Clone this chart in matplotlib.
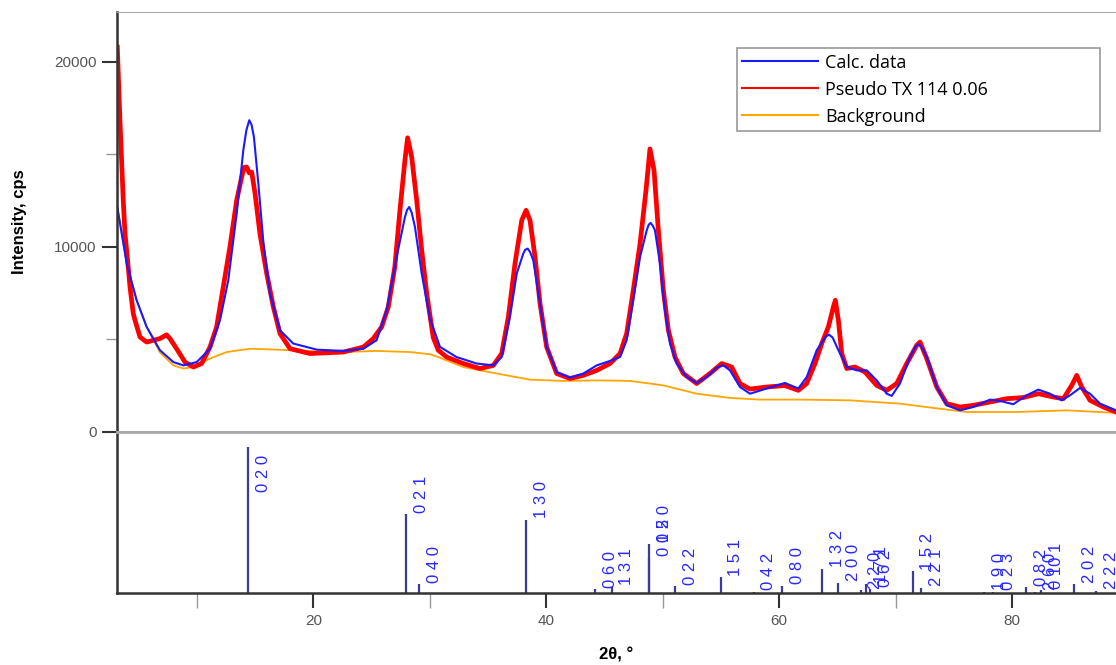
import matplotlib.pyplot as plt

# calculated profile (2theta, cps)
calc_x = [3.17, 3.98, 4.83, 5.69, 6.83, 7.98, 8.84, 9.99, 11.13, 11.99, 12.7, 13.42, 13.99,
          14.25, 14.5, 14.7, 14.9, 15.28, 15.7, 16.28, 17.14, 18.28, 20.3, 22.58, 24.3, 25.44,
          26.3, 27.16, 27.87, 28.05, 28.24, 28.45, 28.73, 29.31, 30.02, 30.88, 32.3, 34.03,
          35.46, 36.18, 36.89, 37.47, 38.03, 38.2, 38.41, 38.62, 38.89, 39.47, 40.04, 40.9,
          42.04, 43.19, 44.34, 45.48, 46.34, 46.91, 47.48, 48.06, 48.63, 48.8, 48.97, 49.15,
          49.34, 49.77, 50.2, 50.63, 51.2, 52.06, 52.92, 53.78, 54.64, 55.21, 55.78, 56.64,
          57.5, 58.93, 60.5, 61.65, 62.37, 63.23, 64.0, 64.29, 64.6, 65.09, 65.81, 66.67,
          67.53, 68.38, 69.24, 69.67, 70.38, 71.24, 71.7, 71.96, 72.25, 72.68, 73.54, 74.39,
          75.54, 76.68, 78.11, 78.97, 80.11, 81.25, 82.26, 83.26, 84.27, 84.98, 85.84, 86.7,
          87.56, 88.93]
calc_y = [12160, 9100, 7120, 5680, 4420, 3780, 3600, 3780, 4500, 6040, 8200, 11800, 15230,
          16300, 16850, 16600, 15950, 13430, 10360, 7480, 5500, 4780, 4450, 4380, 4500, 4960,
          6580, 9460, 11620, 12000, 12160, 11850, 11080, 8560, 6130, 4600, 4050, 3700,
          3600, 4050, 6220, 8560, 9640, 9850, 9910, 9720, 9280, 6940, 4600, 3240,
          2940, 3160, 3600, 3840, 4050, 4960, 7120, 9460, 10900, 11200, 11300, 11150,
          10900, 9100, 6580, 4780, 3700, 2970, 2650, 2970, 3480, 3600, 3330, 2430,
          2070, 2350, 2650, 2350, 2970, 4420, 5150, 5260, 5100, 4420, 3510, 3330,
          3330, 2790, 2070, 1950, 2620, 4050, 4600, 4740, 4600, 4050, 2430, 1440,
          1170, 1350, 1750, 1680, 1500, 1980, 2290, 2070, 1710, 1980, 2380, 2070,
          1530, 1170]

# measured pattern
obs_x = [3.17, 3.4, 3.68, 3.83, 4.11, 4.26, 4.54, 4.69, 5.12, 5.69, 6.83, 7.4, 7.69, 8.26,
         8.98, 9.7, 10.41, 11.13, 11.7, 12.27, 12.84, 13.42, 13.85, 14.05, 14.28, 14.5, 14.71,
         15.0, 15.42, 16.0, 16.57, 17.14, 18.0, 19.72, 22.58, 24.3, 25.15, 25.87, 26.44, 27.0,
         27.44, 27.87, 28.1, 28.45, 28.88, 29.31, 29.74, 30.3, 30.73, 31.45, 32.88,
         34.31, 35.46, 36.18, 36.75, 37.32, 37.9, 38.27, 38.61, 39.04, 39.47, 40.04,
         40.9, 42.04, 43.19, 44.34, 45.48, 46.34, 46.91, 47.48, 48.06, 48.57, 48.91,
         49.26, 49.63, 50.06, 50.49, 51.06, 51.77, 52.92, 54.06, 55.07, 55.93, 56.64,
         57.5, 58.93, 60.5, 61.65, 62.37, 63.08, 63.66, 64.23, 64.66, 64.83, 65.09,
         65.38, 65.81, 66.52, 67.38, 68.38, 69.24, 70.1, 70.96, 71.82, 72.1, 72.68,
         73.54, 74.39, 75.54, 76.68, 78.11, 79.54, 80.97, 82.26, 83.55, 84.41, 85.13,
         85.56, 85.99, 86.7, 87.84, 88.93]
obs_y = [20800, 16800, 12520, 10730, 8900, 7840, 6400, 6040, 5130, 4860, 5050, 5250, 5050, 4500,
         3780, 3510, 3700, 4590, 5680, 7840, 10000, 12520, 13780, 14300, 14320, 14000, 14050,
         12880, 10720, 8560, 6760, 5320, 4500, 4240, 4320, 4590, 5050, 5680, 6760, 8920,
         11980, 14690, 15900, 14860, 12520, 9820, 7480, 5100, 4420, 4050, 3700,
         3430, 3600, 4240, 6220, 9100, 11440, 11980, 11440, 9460, 6940, 4590,
         3160, 2890, 3060, 3330, 3700, 4240, 5320, 7660, 10180, 13060, 15300,
         14140, 10900, 7660, 5500, 4050, 3160, 2620, 3160, 3700, 3510, 2620,
         2320, 2430, 2510, 2250, 2620, 3700, 4780, 5680, 6760, 7120, 6040,
         4240, 3430, 3510, 3240, 2520, 2250, 2620, 3700, 4690, 4860, 3970,
         2430, 1530, 1350, 1440, 1620, 1800, 1860, 2070, 1890, 1800, 2520,
         3060, 2430, 1710, 1350, 1080]

# background
bg_x = [3.17, 3.98, 4.83, 5.69, 6.83, 7.98, 8.84, 9.7, 11.13, 12.56, 14.56, 16.86, 19.72,
        22.58, 25.44, 28.3, 30.02, 30.73, 32.88, 35.75, 38.6, 41.47, 44.34, 47.2, 50.06,
        52.92, 55.78, 58.36, 61.8, 66.1, 70.38, 73.25, 76.11, 80.4, 84.7, 88.93]
bg_y = [12160, 9100, 7120, 5680, 4300, 3600, 3430, 3510, 3970, 4320, 4500, 4450, 4380,
        4320, 4380, 4320, 4200, 4050, 3510, 3160, 2830, 2760, 2790, 2760, 2520,
        2070, 1840, 1750, 1750, 1710, 1530, 1300, 1080, 1080, 1170, 1030]

# reflections: 2theta, relative intensity, hkl
peak_pos = [14.42, 27.96, 29.1, 38.3, 44.21, 45.62, 48.85, 48.85, 51.06, 54.97, 57.82, 60.29,
            63.68, 65.06, 67.0, 67.47, 67.8, 71.47, 72.21, 77.59, 78.41, 81.18, 82.0,
            82.5, 85.32, 87.2]
peak_int = [100, 54, 6, 50, 2.5, 4.3, 24, 33.8, 4.8, 10.7, 1, 5, 16.5, 7, 2, 6, 3, 14.8,
            3.6, 1, 1, 4, 1, 2, 6, 1.5]
peak_hkl = ["0 2 0", "0 2 1", "0 4 0", "1 3 0", "0 6 0", "1 3 1", "0 0 2", "1 5 0", "0 2 2",
            "1 5 1", "0 4 2", "0 8 0", "1 3 2", "2 0 0", "2 2 0", "1 7 1", "0 6 2", "1 5 2",
            "2 2 1", "1 9 0", "0 2 3", "0 8 2", "2 6 0", "0 10 1", "2 0 2", "2 2 2"]

plt.rcParams['font.family'] = ['Liberation Sans', 'DejaVu Sans']

fig = plt.figure(figsize=(11.16, 6.65), dpi=100)
ax = fig.add_axes([0.1048, 0.3504, 0.8952, 0.6316])
ax2 = fig.add_axes([0.1048, 0.1083, 0.8952, 0.2421], sharex=ax)

l_bg, = ax.plot(bg_x, bg_y, color='#ffa500', lw=1.3, label='Background')
l_obs, = ax.plot(obs_x, obs_y, color='#ff0000', lw=3.4, label='Pseudo TX 114 0.06')
l_calc, = ax.plot(calc_x, calc_y, color='#1a1aff', lw=1.5, label='Calc. data')

ax.set_xlim(3.14, 88.93)
ax.set_ylim(0, 22700)
ax.set_yticks([0, 10000, 20000])
ax.set_yticks([5000, 15000], minor=True)
ax.tick_params(axis='y', which='major', length=11, width=1.5, color='#333333',
               labelcolor='#555555', labelsize=11)
ax.tick_params(axis='y', which='minor', length=8, width=1, color='#999999')
ax.tick_params(axis='x', which='both', bottom=False, labelbottom=False)
ax.set_ylabel('Intensity, cps', fontsize=12, fontweight='bold', labelpad=20)
ax.spines['left'].set_color('#333333')
ax.spines['left'].set_linewidth(1.8)
ax.spines['top'].set_color('#aaaaaa')
ax.spines['bottom'].set_color('#aaaaaa')
ax.spines['bottom'].set_linewidth(2)
ax.spines['right'].set_visible(False)

leg = ax.legend(handles=[l_calc, l_obs, l_bg], loc='upper left',
                bbox_to_anchor=(0.6206, 0.724, 0.3634, 0.19), mode='expand',
                fancybox=False, framealpha=1, edgecolor='#999999',
                handlelength=4.2, handletextpad=0.4, borderpad=0.3,
                labelspacing=0.5, borderaxespad=0,
                prop={'family': 'Open Sans', 'size': 13})
leg.get_frame().set_linewidth(1.2)
for h in leg.get_lines():
    h.set_linewidth(1.5)

ax2.vlines(peak_pos, 0, peak_int, color='#3c3c96', lw=1.6)
for pos, h, lab in zip(peak_pos, peak_int, peak_hkl):
    ax2.annotate(lab, (pos, min(h, 68)), xytext=(11, 1), textcoords='offset points',
                 rotation=90, ha='center', va='bottom', color='#2828ff', fontsize=12)
ax2.set_ylim(0, 110)
ax2.set_yticks([])
ax2.set_xticks([20, 40, 60, 80])
ax2.set_xticks([10, 30, 50, 70], minor=True)
ax2.tick_params(axis='x', which='major', length=11, width=1.5, color='#333333',
                labelcolor='#555555', labelsize=11, pad=4)
ax2.tick_params(axis='x', which='minor', length=11, width=1, color='#999999')
ax2.set_xlabel('2θ, °', fontsize=12, fontweight='bold', labelpad=14)
ax2.spines['left'].set_color('#333333')
ax2.spines['left'].set_linewidth(1.8)
ax2.spines['bottom'].set_color('#333333')
ax2.spines['bottom'].set_linewidth(1.8)
ax2.spines['top'].set_color('#aaaaaa')
ax2.spines['top'].set_linewidth(2)
ax2.spines['right'].set_visible(False)

fig.savefig('out.png', dpi=100)
